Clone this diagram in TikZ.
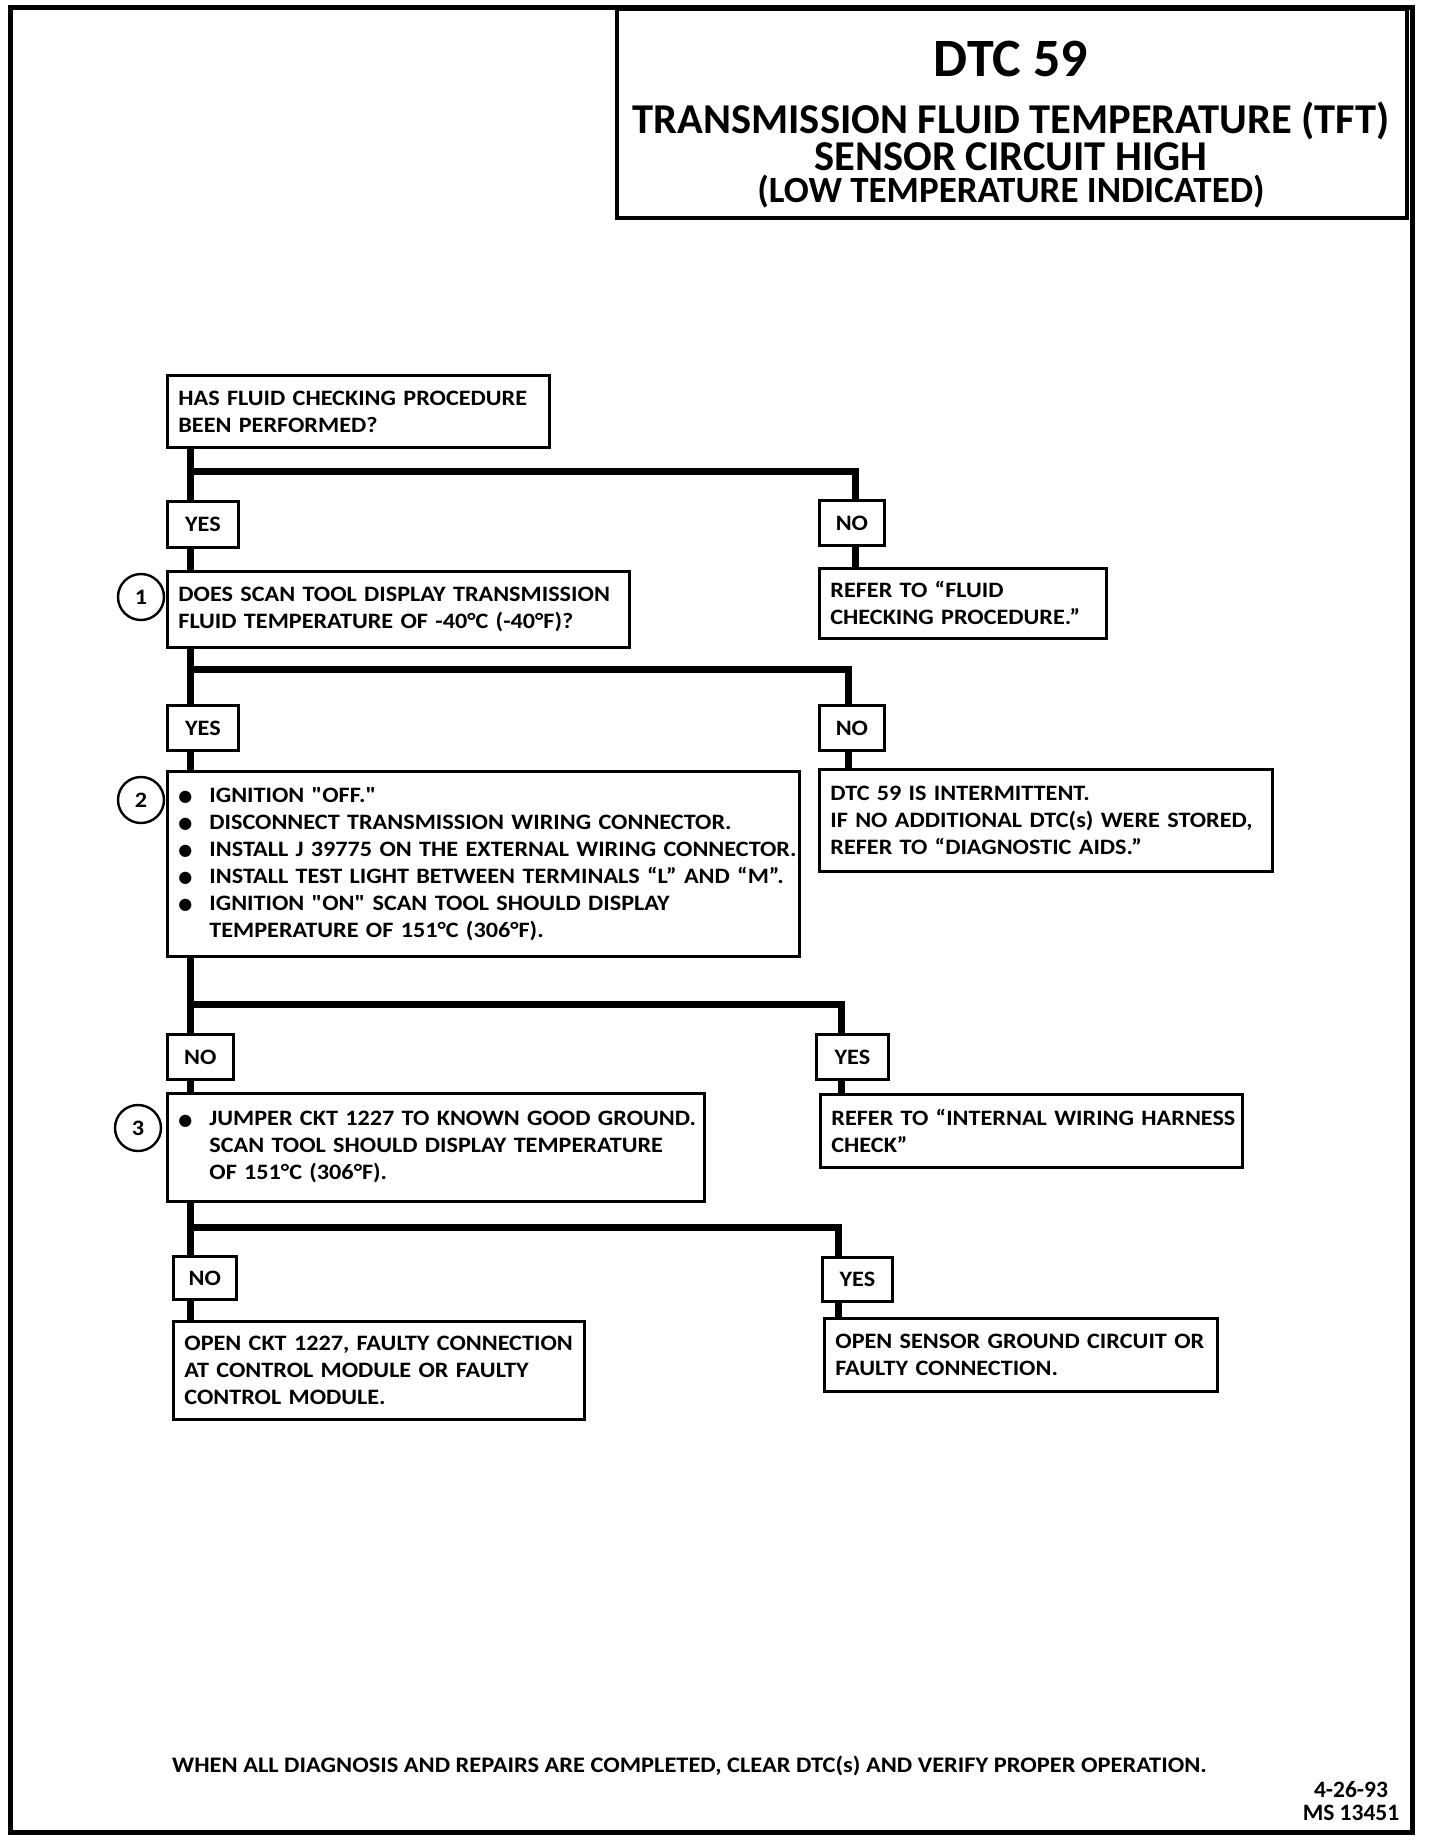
\documentclass[tikz,border=0pt]{standalone}
\usepackage{fontspec}
\newfontfamily\boxfont{Carlito}[FakeStretch=1.1]
\newfontfamily\titlefont{Carlito}
\newfontfamily\symfont{DejaVu Sans}
\newcommand\lne[1]{\mbox{#1}}
\newcommand\bulmark{\makebox[31pt][l]{\raisebox{0.5pt}{\symfont\fontsize{16}{16}\selectfont ●}}}
\newcommand\bitem[1]{\bulmark\mbox{#1}}
\newcommand\bcont[1]{\hspace*{31pt}\mbox{#1}}
\begin{document}
\begin{tikzpicture}[x=1pt,y=-1pt,
  box/.style={draw,line width=2.8pt,fill=white,anchor=north west,inner xsep=11pt,inner ysep=0pt,align=left,font=\boxfont\bfseries\fontsize{22}{27}\selectfont},
  lab/.style={draw,line width=2.8pt,fill=white,anchor=north west,inner sep=0pt,align=center,font=\boxfont\bfseries\fontsize{22}{27}\selectfont},
  num/.style={circle,draw,line width=2.4pt,minimum size=46pt,inner sep=0pt,font=\boxfont\bfseries\fontsize{22}{22}\selectfont},
  flow/.style={line width=7pt,line join=miter},
  ttl/.style={anchor=base,inner sep=0pt,font=\titlefont\bfseries}]
\useasboundingbox (0,0) rectangle (1440,1844);
\fill[white] (0,0) rectangle (1440,1844);
\draw[line width=5pt] (10,8) rectangle (1412,1832);
\draw[line width=3.2pt] (617,9) rectangle (1407,218);
% title
\node[ttl,font=\titlefont\bfseries\fontsize{54}{54}\selectfont] (t0) at (1011,77) {DTC 59};
\node[ttl,font=\titlefont\bfseries\fontsize{42.5}{42.5}\selectfont] (t1) at (1011,133) {TRANSMISSION FLUID TEMPERATURE (TFT)};
\node[ttl,font=\titlefont\bfseries\fontsize{42.5}{42.5}\selectfont] (t2) at (1011,170) {SENSOR CIRCUIT HIGH};
\node[ttl,font=\titlefont\bfseries\fontsize{37}{37}\selectfont] (t3) at (1011,202) {(LOW TEMPERATURE INDICATED)};
% boxes
\node[box,minimum width=382pt,minimum height=72pt,text width=360pt] (A) at (166,374) {\lne{HAS FLUID CHECKING PROCEDURE}\\\lne{BEEN PERFORMED?}};
\node[lab,minimum width=71pt,minimum height=46pt] (yes1) at (166,500) {YES};
\node[lab,minimum width=65pt,minimum height=45pt] (no1) at (818,499) {NO};
\node[box,minimum width=462pt,minimum height=76pt,text width=440pt] (q1) at (166,570) {\lne{DOES SCAN TOOL DISPLAY TRANSMISSION}\\\lne{FLUID TEMPERATURE OF -40°C (-40°F)?}};
\node[num] (c1) at (141,597) {1};
\node[box,minimum width=287pt,minimum height=70pt,text width=265pt] (ref1) at (818,567) {\lne{REFER TO “FLUID}\\\lne{CHECKING PROCEDURE.”}};
\node[lab,minimum width=71pt,minimum height=45pt] (yes2) at (166,704) {YES};
\node[lab,minimum width=65pt,minimum height=45pt] (no2) at (818,704) {NO};
\node[box,minimum width=632pt,minimum height=185pt,text width=610pt] (q2) at (166,770) {\bitem{IGNITION "OFF."}\\ \bitem{DISCONNECT TRANSMISSION WIRING CONNECTOR.}\\ \bitem{INSTALL J 39775 ON THE EXTERNAL WIRING CONNECTOR.}\\ \bitem{INSTALL TEST LIGHT BETWEEN TERMINALS “L” AND “M”.}\\ \bitem{IGNITION "ON" SCAN TOOL SHOULD DISPLAY}\\ \bcont{TEMPERATURE OF 151°C (306°F).}};
\node[num] (c2) at (141,800) {2};
\node[box,minimum width=453pt,minimum height=102pt,text width=431pt] (dtc) at (818,768) {\lne{DTC 59 IS INTERMITTENT.}\\\lne{IF NO ADDITIONAL DTC(s) WERE STORED,}\\\lne{REFER TO “DIAGNOSTIC AIDS.”}};
\node[lab,minimum width=66pt,minimum height=45pt] (no3) at (166,1033) {NO};
\node[lab,minimum width=72pt,minimum height=45pt] (yes3) at (815,1033) {YES};
\node[box,minimum width=537pt,minimum height=108pt,text width=515pt] (q3) at (166,1092) {\bitem{JUMPER CKT 1227 TO KNOWN GOOD GROUND.}\\ \bcont{SCAN TOOL SHOULD DISPLAY TEMPERATURE}\\ \bcont{OF 151°C (306°F).}};
\node[num] (c3) at (138,1128) {3};
\node[box,minimum width=422pt,minimum height=73pt,text width=400pt] (ref3) at (819,1093) {\lne{REFER TO “INTERNAL WIRING HARNESS}\\\lne{CHECK”}};
\node[lab,minimum width=63pt,minimum height=43pt] (no4) at (172,1255) {NO};
\node[lab,minimum width=70pt,minimum height=44pt] (yes4) at (821,1256) {YES};
\node[box,minimum width=411pt,minimum height=98pt,text width=389pt] (fin1) at (172,1320) {\lne{OPEN CKT 1227, FAULTY CONNECTION}\\\lne{AT CONTROL MODULE OR FAULTY}\\\lne{CONTROL MODULE.}};
\node[box,minimum width=393pt,minimum height=73pt,text width=371pt] (fin2) at (823,1317) {\lne{OPEN SENSOR GROUND CIRCUIT OR}\\\lne{FAULTY CONNECTION.}};
% footer
\node[anchor=base west,inner sep=0pt,font=\boxfont\bfseries\fontsize{22.2}{22}\selectfont] (foot) at (172,1772) {WHEN ALL DIAGNOSIS AND REPAIRS ARE COMPLETED, CLEAR DTC(s) AND VERIFY PROPER OPERATION.};
\node[anchor=base,inner sep=0pt,font=\titlefont\bfseries\fontsize{23.5}{23.5}\selectfont] (date) at (1351,1797) {4-26-93};
\node[anchor=base,inner sep=0pt,font=\titlefont\bfseries\fontsize{23.5}{23.5}\selectfont] (ms) at (1351,1820) {MS 13451};
% connectors
\coordinate (sp) at (190,0);
\coordinate (b1) at (190,471);
\coordinate (r1) at (855,471);
\coordinate (b2) at (190,669);
\coordinate (r2) at (848,669);
\coordinate (b3) at (190,1004);
\coordinate (r3) at (841,1004);
\coordinate (b4) at (190,1227);
\coordinate (r4) at (838,1227);
\draw[flow] (A.south -| sp) -- (yes1.north -| sp);
\draw[flow] (yes1.south -| sp) -- (q1.north -| sp);
\draw[flow] (q1.south -| sp) -- (yes2.north -| sp);
\draw[flow] (yes2.south -| sp) -- (q2.north -| sp);
\draw[flow] (q2.south -| sp) -- (no3.north -| sp);
\draw[flow] (no3.south -| sp) -- (q3.north -| sp);
\draw[flow] (q3.south -| sp) -- (no4.north -| sp);
\draw[flow] (no4.south -| sp) -- (fin1.north -| sp);
\draw[flow] (b1) -- (r1) -- (no1.north -| r1);
\draw[flow] (no1.south -| r1) -- (ref1.north -| r1);
\draw[flow] (b2) -- (r2) -- (no2.north -| r2);
\draw[flow] (no2.south -| r2) -- (dtc.north -| r2);
\draw[flow] (b3) -- (r3) -- (yes3.north -| r3);
\draw[flow] (yes3.south -| r3) -- (ref3.north -| r3);
\draw[flow] (b4) -- (r4) -- (yes4.north -| r4);
\draw[flow] (yes4.south -| r4) -- (fin2.north -| r4);
\end{tikzpicture}
\end{document}
